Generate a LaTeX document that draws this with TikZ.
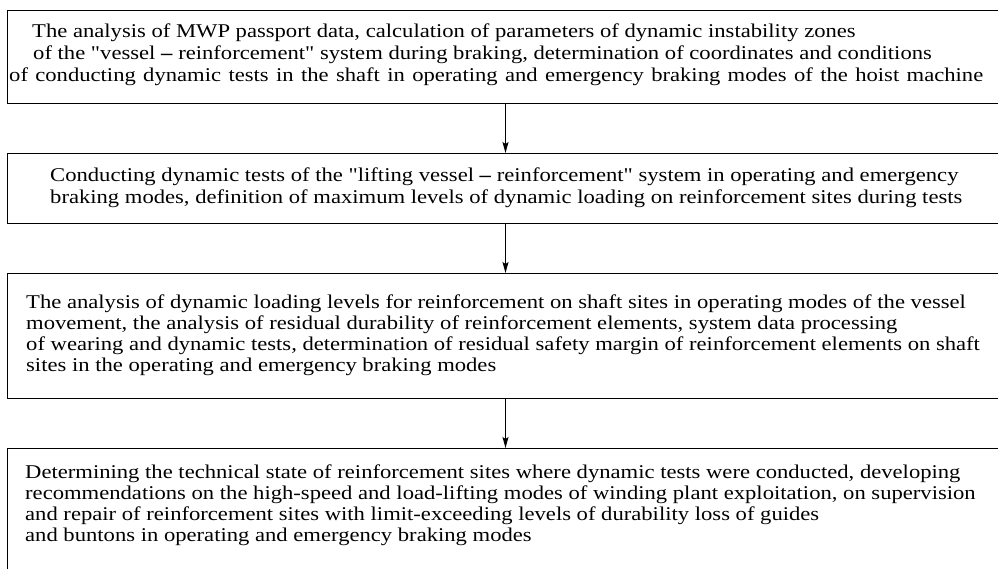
\documentclass[tikz,border=0pt]{standalone}
\usepackage{fontspec}
\setmainfont{Liberation Serif}[FakeStretch=1.16, Ligatures=TeXOff]
\usetikzlibrary{arrows.meta}
% heavy dash between the paired terms
\newcommand{\pairdash}{\textbf{\textendash}}
\begin{document}
\begin{tikzpicture}[x=1pt,y=-1pt]
\tikzset{
  stage/.style={draw, line width=1.3pt, rectangle, inner sep=0pt, anchor=north west, minimum width=995pt},
  ln/.style={anchor=base west, inner sep=0pt, font=\fontsize{19.5}{22}\selectfont},
  flow/.style={-{Stealth[length=11pt,width=6pt,inset=2pt]}, line width=1pt},
}
\useasboundingbox (0,0) rectangle (998,568);
\clip (0,0) rectangle (998,568);
\fill[white] (0,0) rectangle (998,568);

% the four stages
\node[stage, minimum height=93pt]  (s1) at (7,10)  {};
\node[stage, minimum height=70pt]  (s2) at (7,153) {};
\node[stage, minimum height=125pt] (s3) at (7,273) {};
\node[stage, minimum height=160pt] (s4) at (7,448) {};

% stage 1
\node[ln] (t11) at (32,37) {The analysis of MWP passport data, calculation of parameters of dynamic instability zones};
\node[ln] (t12) at (33,59) {of the "vessel \pairdash{} reinforcement" system during braking, determination of coordinates and conditions};
\node[ln] (t13) at (9,81)  {\makebox[974pt][s]{of conducting dynamic tests in the shaft in operating and emergency braking modes of the hoist machine}};

% stage 2
\node[ln] (t21) at (50,181.5) {Conducting dynamic tests of the "lifting vessel \pairdash{} reinforcement" system in operating and emergency};
\node[ln] (t22) at (50,203.5) {braking modes, definition of maximum levels of dynamic loading on reinforcement sites during tests};

% stage 3
\node[ln] (t31) at (26,308) {The analysis of dynamic loading levels for reinforcement on shaft sites in operating modes of the vessel};
\node[ln] (t32) at (26,329) {movement, the analysis of residual durability of reinforcement elements, system data processing};
\node[ln] (t33) at (26,350) {of wearing and dynamic tests, determination of residual safety margin of reinforcement elements on shaft};
\node[ln] (t34) at (26,371) {sites in the operating and emergency braking modes};

% stage 4
\node[ln] (t41) at (25,478) {Determining the technical state of reinforcement sites where dynamic tests were conducted, developing};
\node[ln] (t42) at (25,499) {recommendations on the high-speed and load-lifting modes of winding plant exploitation, on supervision};
\node[ln] (t43) at (25,520) {and repair of reinforcement sites with limit-exceeding levels of durability loss of guides};
\node[ln] (t44) at (25,541) {and buntons in operating and emergency braking modes};

% connectors
\coordinate (ax) at (505.5,0);
\draw[flow] (s1.south -| ax) -- (s2.north -| ax);
\draw[flow] (s2.south -| ax) -- (s3.north -| ax);
\draw[flow] (s3.south -| ax) -- (s4.north -| ax);
\end{tikzpicture}
\end{document}
